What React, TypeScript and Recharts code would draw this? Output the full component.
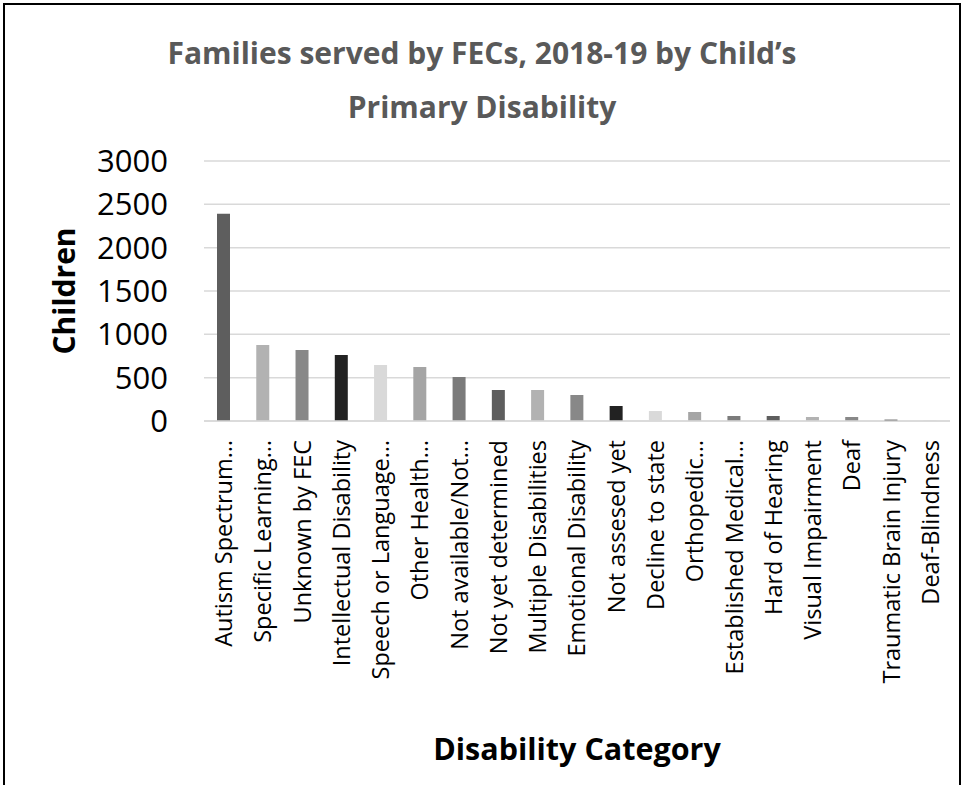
import React from 'react'
import { BarChart, Bar, Cell, XAxis, YAxis, CartesianGrid, Label } from 'recharts'

const categories = [
  'Autism Spectrum…',
  'Specific Learning…',
  'Unknown by FEC',
  'Intellectual Disability',
  'Speech or Language…',
  'Other Health…',
  'Not available/Not…',
  'Not yet determined',
  'Multiple Disabilities',
  'Emotional Disability',
  'Not assesed yet',
  'Decline to state',
  'Orthopedic…',
  'Established Medical…',
  'Hard of Hearing',
  'Visual Impairment',
  'Deaf',
  'Traumatic Brain Injury',
  'Deaf-Blindness',
]

const children = [2390, 877, 819, 762, 646, 623, 508, 358, 358, 300, 173, 115, 104, 58, 58, 46, 46, 15, 8]

const yTicks = [0, 500, 1000, 1500, 2000, 2500, 3000]

const palette = ['#5e5e5e', '#b2b2b2', '#888888', '#222222', '#d9d9d9', '#a5a5a5', '#7b7b7b']

const data = categories.map((name, i) => ({ name, value: children[i] }))

const FONT = '"Open Sans", sans-serif'

function CategoryTick(props: any) {
  const { x, y, payload } = props
  return (
    <text
      x={x}
      y={y}
      transform={`rotate(-90, ${x}, ${y})`}
      textAnchor="end"
      dy="0.36em"
      fontSize={23.5}
      fontFamily={FONT}
      fill="#000"
    >
      {payload.value}
    </text>
  )
}

export default function App() {
  return (
    <div style={{ position: 'absolute', left: 0, top: 0, width: 964, height: 785, overflow: 'hidden', background: '#fff' }}>
      <div
        style={{
          position: 'absolute', left: 3, top: 3, width: 958, height: 820,
          border: '2px solid #000', boxSizing: 'border-box',
        }}
      />
      <div
        style={{
          position: 'absolute', left: 0, top: 26, width: 964, textAlign: 'center',
          fontFamily: FONT, fontWeight: 700, fontSize: 30, lineHeight: '54px', color: '#595959',
        }}
      >
        Families served by FECs, 2018-19 by Child’s
        <br />
        Primary Disability
      </div>
      <div style={{ position: 'absolute', left: 0, top: 0 }}>
        <BarChart
          width={964}
          height={785}
          data={data}
          margin={{ top: 161, right: 14, bottom: 0, left: 0 }}
          barCategoryGap={0}
        >
          <CartesianGrid vertical={false} stroke="#d9d9d9" strokeWidth={1.5} />
          <XAxis
            dataKey="name"
            height={364}
            interval={0}
            tickLine={false}
            tickSize={0}
            tickMargin={19}
            axisLine={{ stroke: '#d9d9d9', strokeWidth: 1.5 }}
            tick={<CategoryTick />}
          >
            <Label
              value="Disability Category"
              position="center"
              dy={146}
              style={{ fontFamily: FONT, fontWeight: 700, fontSize: 30.5, fill: '#000' }}
            />
          </XAxis>
          <YAxis
            width={204}
            domain={[0, 3000]}
            ticks={yTicks}
            axisLine={false}
            tickLine={false}
            tickSize={0}
            tickMargin={36}
            tick={{ fontSize: 31, fontFamily: FONT, fill: '#000' }}
          >
            <Label
              value="Children"
              angle={-90}
              position="center"
              dx={-38}
              style={{ fontFamily: FONT, fontWeight: 700, fontSize: 30, fill: '#000', textAnchor: 'middle' }}
            />
          </YAxis>
          <Bar dataKey="value" barSize={13} isAnimationActive={false}>
            {data.map((_, i) => (
              <Cell key={i} fill={palette[i % palette.length]} />
            ))}
          </Bar>
        </BarChart>
      </div>
    </div>
  )
}
